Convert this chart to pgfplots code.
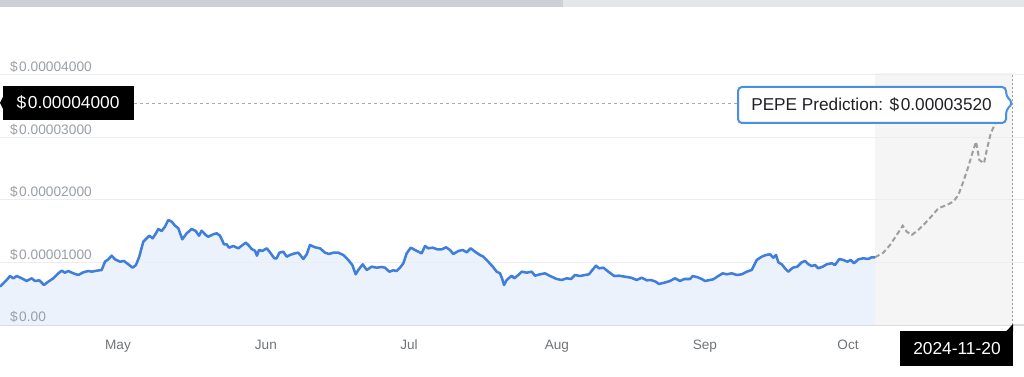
\documentclass[border=0pt]{standalone}
\usepackage{pgfplots}
\pgfplotsset{compat=1.18}
\usepackage{pgfplotstable}
\usepackage{fontspec}
\setmainfont{Liberation Sans}
\definecolor{lineblue}{HTML}{3F7FDB}
\definecolor{fillblue}{HTML}{EBF2FC}
\definecolor{predgray}{HTML}{F5F5F5}
\definecolor{dashgray}{HTML}{9E9E9E}
\definecolor{crossgray}{HTML}{AAAAAA}
\definecolor{labgray}{HTML}{9AA0A6}
\definecolor{monthgray}{HTML}{70757A}
\definecolor{gridgray}{HTML}{ECEDEF}
\definecolor{axisgray}{HTML}{D9DCE0}
\definecolor{calloutblue}{HTML}{4A8FE0}
\definecolor{calltext}{HTML}{202124}
\definecolor{bardark}{HTML}{CDD1D6}
\definecolor{barlight}{HTML}{E4E6EA}

% d = days since 1 May 2024, v = price in units of 1e-5 USD
\pgfplotstableread{
d v
-24.73 0.613
-24.04 0.667
-23.33 0.720
-22.64 0.784
-21.94 0.747
-21.23 0.784
-20.18 0.747
-19.14 0.704
-18.09 0.747
-17.40 0.704
-16.50 0.715
-15.51 0.640
-14.61 0.693
-13.56 0.747
-12.51 0.827
-11.80 0.869
-11.11 0.837
-10.42 0.864
-9.37 0.827
-8.32 0.800
-7.27 0.843
-6.23 0.864
-5.51 0.853
-4.46 0.869
-3.42 0.880
-2.72 1.013
-2.03 1.051
-1.32 1.109
-0.63 1.051
0.42 1.013
1.26 1.024
2.16 0.971
3.08 0.917
3.77 0.960
4.46 1.093
5.30 1.333
6.02 1.387
6.56 1.429
7.27 1.387
7.96 1.467
8.45 1.536
9.16 1.504
9.85 1.573
10.54 1.680
11.26 1.653
11.95 1.589
12.64 1.547
13.48 1.371
14.40 1.467
15.45 1.536
16.29 1.504
16.98 1.429
17.54 1.509
18.38 1.440
18.93 1.413
19.97 1.451
20.69 1.467
21.38 1.429
21.74 1.371
22.22 1.291
22.78 1.291
23.27 1.237
24.17 1.264
25.21 1.227
25.93 1.269
26.77 1.317
27.31 1.280
28.02 1.216
28.71 1.189
29.13 1.109
29.55 1.200
30.25 1.184
31.17 1.227
31.86 1.163
32.76 1.067
33.26 1.067
33.81 1.157
34.65 1.173
35.36 1.093
36.05 1.120
37.10 1.147
37.79 1.157
38.84 1.056
39.55 1.131
40.24 1.280
41.29 1.243
42.34 1.227
43.39 1.157
44.23 1.136
45.13 1.157
46.17 1.157
47.22 1.120
48.27 1.040
49.11 0.960
49.82 0.811
50.37 0.880
51.29 0.971
52.13 0.880
53.18 0.933
54.22 0.917
55.27 0.928
55.96 0.917
56.86 0.853
57.70 0.875
58.41 0.864
59.11 0.917
59.80 0.987
60.51 1.147
61.35 1.237
62.25 1.200
62.94 1.173
63.65 1.147
64.35 1.264
65.04 1.227
65.96 1.237
66.93 1.211
67.85 1.211
68.75 1.243
69.59 1.200
70.28 1.136
71.33 1.184
72.25 1.200
73.09 1.163
73.93 1.227
74.83 1.173
75.87 1.120
76.57 1.093
77.61 1.013
78.66 0.923
79.37 0.853
80.07 0.827
80.49 0.747
80.91 0.640
81.47 0.720
82.52 0.789
83.06 0.747
83.90 0.800
84.62 0.853
85.66 0.837
86.71 0.853
87.40 0.789
88.45 0.811
89.50 0.827
90.55 0.784
91.95 0.736
93.00 0.720
94.05 0.747
94.95 0.736
95.79 0.800
96.83 0.784
97.88 0.800
98.72 0.811
99.41 0.880
100.19 0.949
100.82 0.907
101.72 0.917
102.77 0.853
104.02 0.784
105.01 0.789
106.27 0.773
107.52 0.757
108.72 0.720
109.77 0.757
110.81 0.715
111.72 0.720
112.70 0.693
113.39 0.656
114.50 0.677
115.70 0.704
116.75 0.747
117.79 0.704
118.70 0.736
119.89 0.736
120.46 0.784
121.50 0.763
122.34 0.736
123.03 0.704
124.78 0.731
125.82 0.784
126.74 0.827
127.58 0.811
128.63 0.827
129.68 0.800
130.73 0.811
131.78 0.853
132.82 0.880
133.87 1.040
134.92 1.093
135.82 1.120
136.66 1.131
137.35 1.077
137.92 1.120
138.40 1.003
139.11 0.971
139.80 0.907
140.49 0.853
141.42 0.917
142.38 0.933
143.30 1.003
144.00 1.024
144.69 0.971
145.40 0.944
146.09 0.960
146.78 0.907
147.70 0.933
148.54 0.971
149.59 0.987
150.28 0.960
151.18 1.056
152.02 1.040
152.86 1.013
153.57 1.040
154.27 0.987
155.17 1.051
156.21 1.067
157.26 1.056
157.97 1.083
158.67 1.083
}\hist

\pgfplotstableread{
d v
158.67 1.083
160.41 1.157
161.81 1.280
163.21 1.440
164.47 1.589
165.31 1.493
166.36 1.440
167.74 1.520
169.15 1.627
170.55 1.744
171.93 1.867
173.69 1.920
175.08 1.973
176.13 2.080
177.17 2.293
178.22 2.533
179.27 2.800
179.84 2.933
180.53 2.640
181.51 2.587
182.08 2.800
182.92 3.067
184.03 3.253
185.50 3.408
187.38 3.550
}\pred

\begin{document}
\begin{tikzpicture}
\path[use as bounding box, fill=white] (0,0) rectangle (768pt,282.75pt);
\begin{axis}[
  at={(0pt,39pt)}, anchor=south west,
  scale only axis, width=768pt, height=189pt,
  xmin=-24.73, xmax=189.89, ymin=0, ymax=4.032,
  axis x line=bottom, axis y line=left,
  axis line style={-},
  x axis line style={draw=axisgray, line width=1.5pt},
  y axis line style={draw=none},
  major tick length=0pt,
  ytick=\empty,
  xtick={0,31,61,92,123,153},
  xticklabels={May,Jun,Jul,Aug,Sep,Oct},
  xticklabel style={anchor=base, yshift=-18.75pt, inner sep=0pt,
    font=\fontsize{10.2}{12}\selectfont, text=monthgray},
  clip=false,
]
\fill[predgray] (axis cs:158.67,0) rectangle (axis cs:187.5,4.032);
\addplot[draw=none, fill=fillblue] table[x=d, y=v] {\hist} \closedcycle;
\foreach \g in {1,2,3,4}{
  \edef\tmp{\noexpand\draw[gridgray, line width=0.75pt] (axis cs:-24.73,\g) -- (axis cs:189.89,\g);}\tmp
}
\foreach \g/\lab in {0/0.00,1/0.00001000,2/0.00002000,3/0.00003000,4/0.00004000}{
  \edef\tmp{\noexpand\node[anchor=base west, inner sep=0pt, font=\noexpand\fontsize{10.3}{12}\noexpand\selectfont, text=labgray]
    at (axis cs:-22.64,\g) [yshift=2.6pt] {\noexpand\$\noexpand\kern0.1em\lab};}\tmp
}
\draw[crossgray, line width=0.75pt, dash pattern=on 2.25pt off 2.25pt]
  (axis cs:3.35,3.55) -- (axis cs:187.5,3.55);
\draw[dashgray, line width=1pt, dash pattern=on 1.5pt off 1.5pt]
  (axis cs:187.5,0) -- (axis cs:187.5,4.032);
\addplot[dashgray, line width=1.5pt, dash pattern=on 3.75pt off 2.25pt] table[x=d, y=v] {\pred};
\addplot[lineblue, line width=1.9pt, line join=round] table[x=d, y=v] {\hist};
\end{axis}
\begin{scope}[x=0.75pt, y=-0.75pt, shift={(0pt,282.75pt)}]
  \fill[bardark] (0,0) rectangle (563,7);
  \fill[barlight] (563,0) rectangle (1024,7);
  % left value box
  \fill[black] (3,86) rectangle (134,120);
  \fill[black] (3,97) -- (0,103) -- (3,109) -- cycle;
  \node[text=white, font=\fontsize{13}{14}\selectfont, inner sep=0pt] at (68,102.5) {\$\kern0.1em0.00004000};
  % callout
  \draw[calloutblue, line width=1.5pt, fill=white, rounded corners=3pt]
    (738,87) -- (1006,87) -- (1006,96) -- (1013,103) -- (1006,110) -- (1006,123) -- (738,123) -- cycle;
  \node[text=calltext, font=\fontsize{12.9}{14}\selectfont, inner sep=0pt] at (871.5,105) {PEPE Prediction: \$\kern0.1em0.00003520};
  % date box
  \fill[black] (900,331) rectangle (1013,366);
  \fill[black] (1006,331.5) -- (1013,324) -- (1013,331.5) -- cycle;
  \node[text=white, font=\fontsize{13}{14}\selectfont, inner sep=0pt] at (957,348.5) {2024-11-20};
\end{scope}
\end{tikzpicture}
\end{document}
